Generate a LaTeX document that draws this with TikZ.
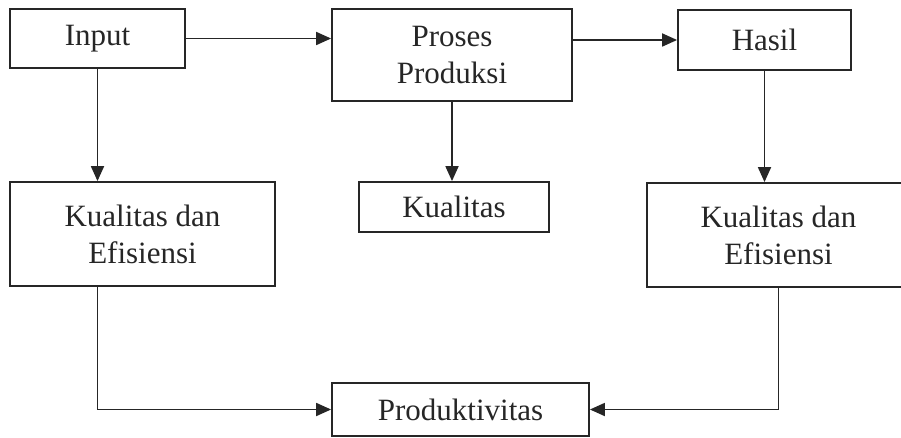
\documentclass[tikz,border=0pt]{standalone}
\usepackage{fontspec}
\setmainfont{Liberation Serif}
\usetikzlibrary{arrows.meta,calc}
\tikzset{
    box/.style={draw=black!85, line width=1.8pt, align=center, inner sep=0pt, font=\fontsize{31}{37}\selectfont, text=black!85},
    flow/.style={draw=black!85, line width=1.8pt, -{Triangle[length=15pt,width=13pt]}}
}
\begin{document}
\begin{tikzpicture}[x=1pt, y=-1pt]
\useasboundingbox (0,0) rectangle (901,438);

\node[box, minimum width=175pt, minimum height=59pt] (input) at (97.5,38.5) {Input};
\node[box, minimum width=240pt, minimum height=92pt] (proses) at (452,55) {Proses\\Produksi};
\node[box, minimum width=173pt, minimum height=60pt] (hasil) at (764.5,40) {Hasil};
\node[box, minimum width=265pt, minimum height=104pt] (kde1) at (142.5,234) {Kualitas dan\\Efisiensi};
\node[box, minimum width=190pt, minimum height=50pt] (kual) at (454,207) {Kualitas};
\node[box, minimum width=263pt, minimum height=104pt] (kde2) at (778.5,235) {Kualitas dan\\Efisiensi};
\node[box, minimum width=257pt, minimum height=53pt] (prod) at (460.5,409.5) {Produktivitas};

\draw[flow] (input.east) -- (input.east -| proses.west);
\draw[flow] (hasil.west -| proses.east) -- (hasil.west);
\draw[flow] (input.south) -- (input.south |- kde1.north);
\draw[flow] (proses.south) -- (proses.south |- kual.north);
\draw[flow] (hasil.south) -- (hasil.south |- kde2.north);
\draw[flow] (input.south |- kde1.south) |- (prod.west);
\draw[flow] (kde2.south) |- (prod.east);

\end{tikzpicture}
\end{document}
